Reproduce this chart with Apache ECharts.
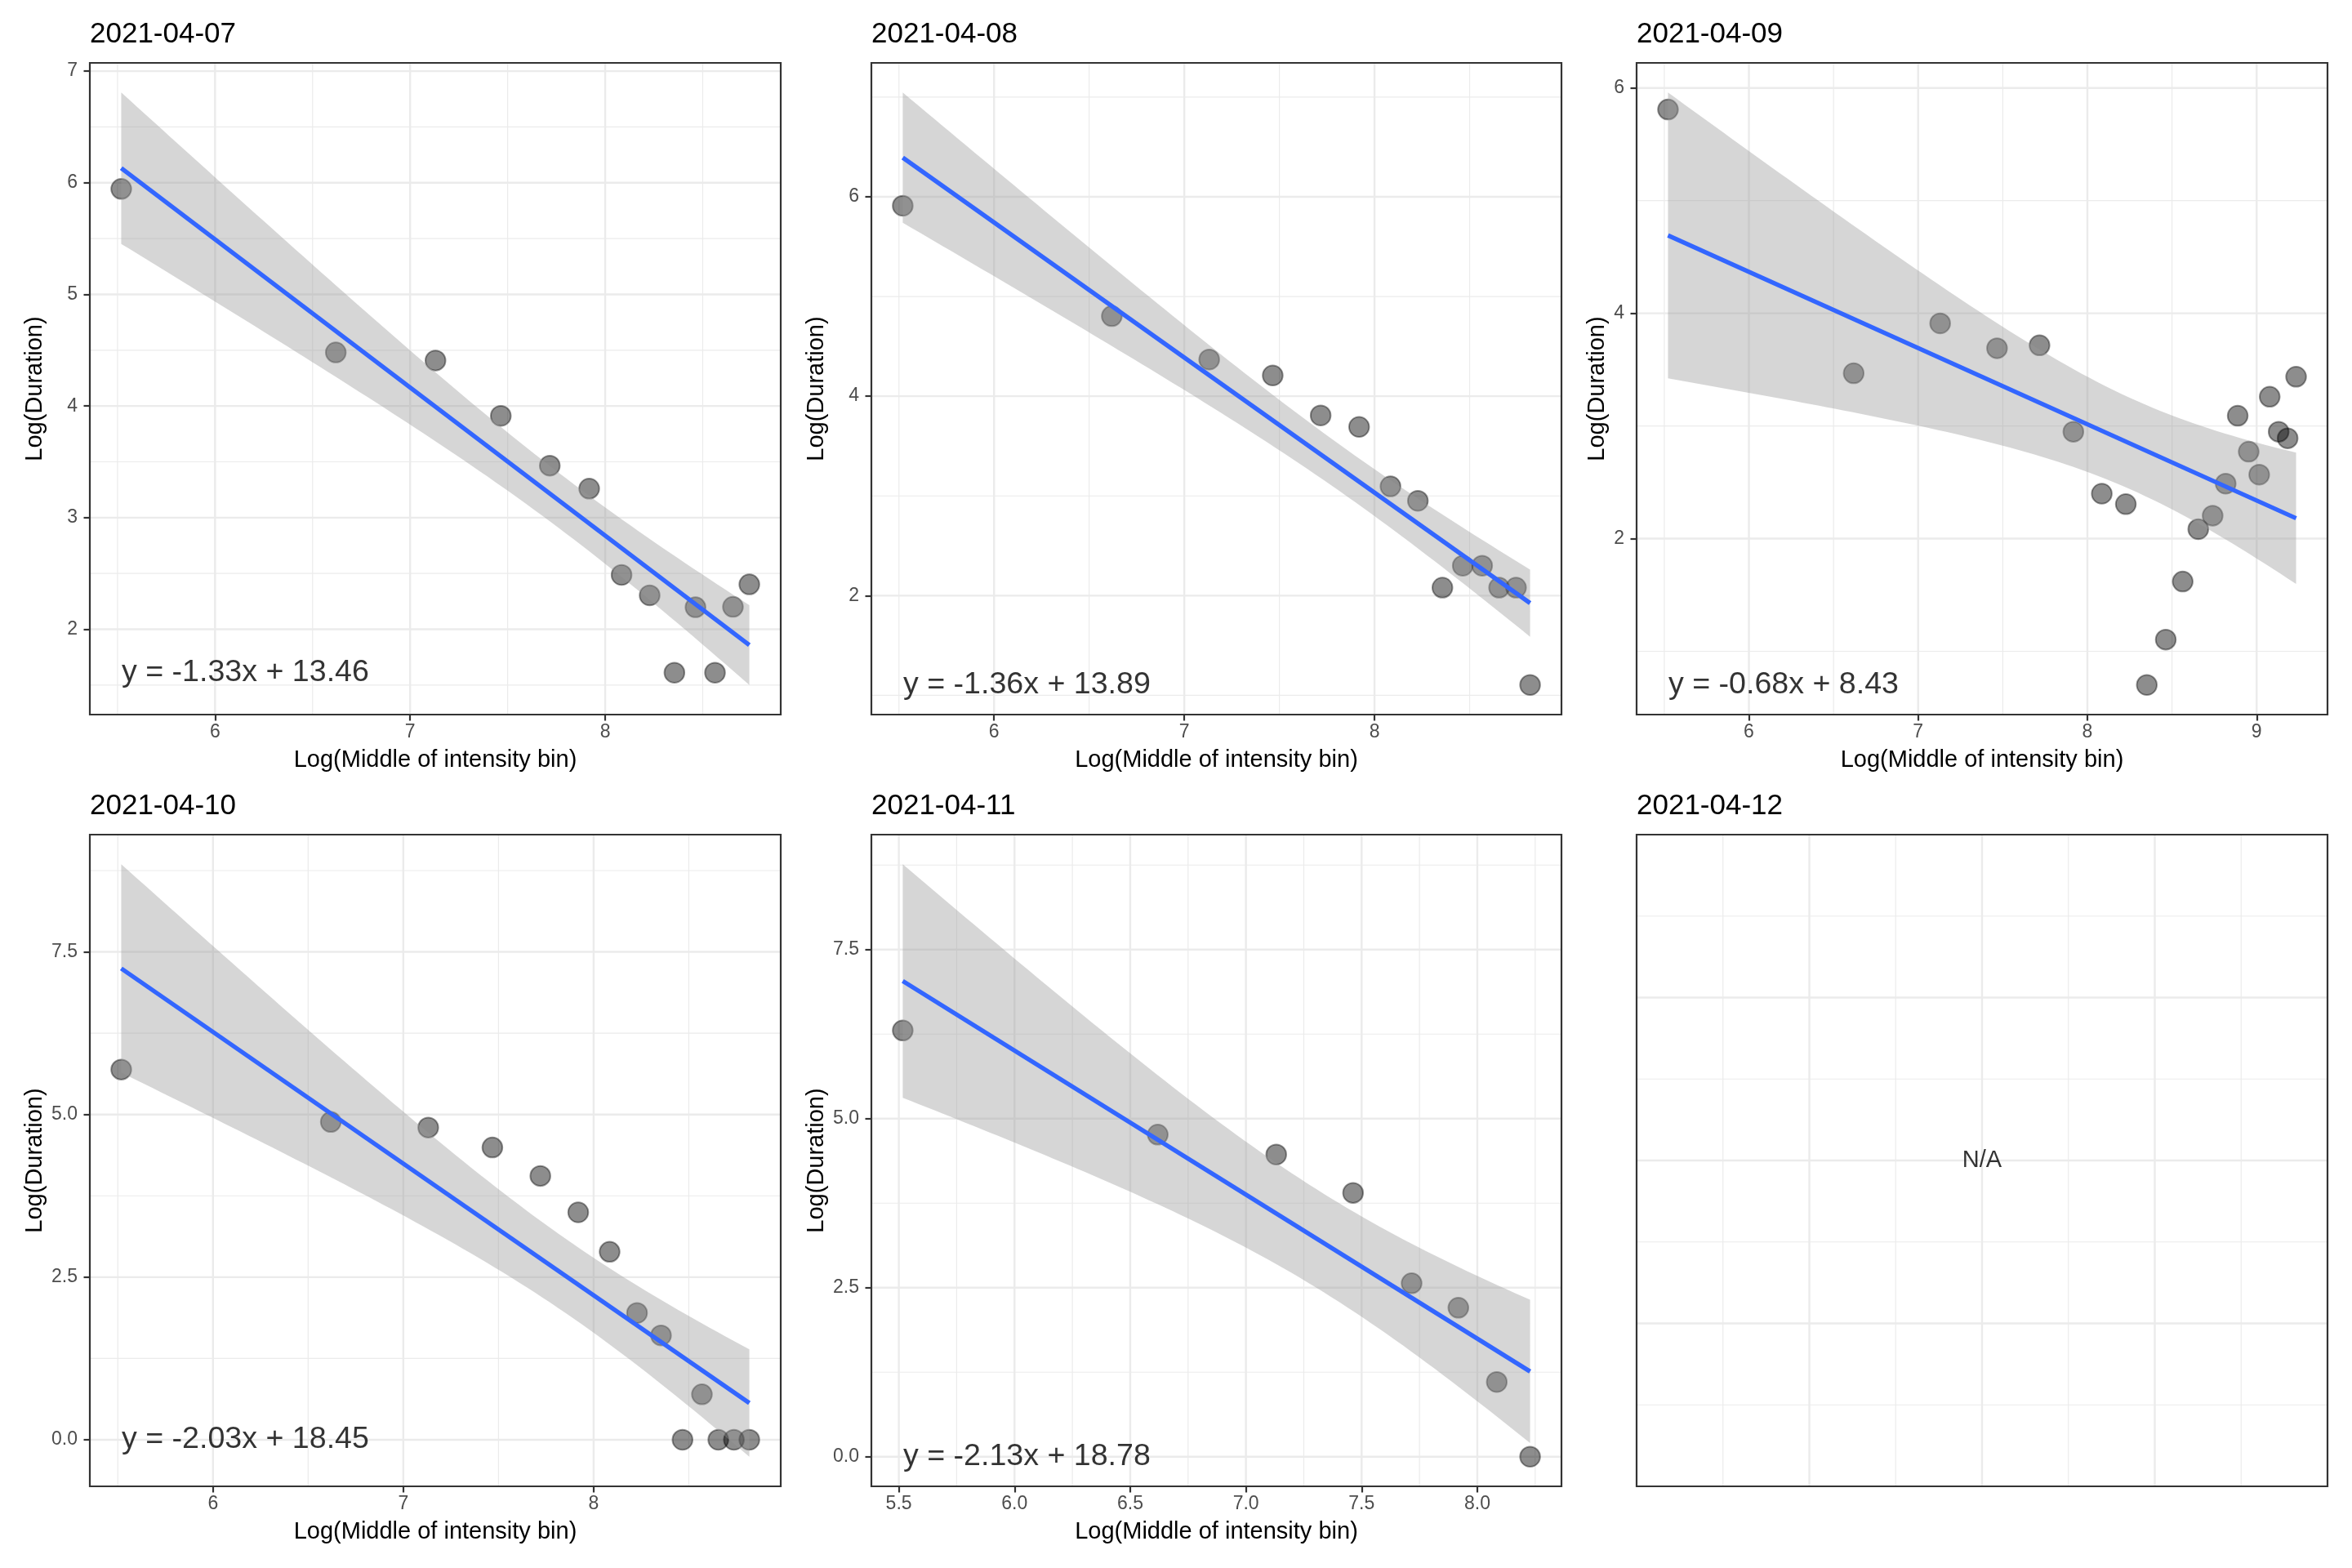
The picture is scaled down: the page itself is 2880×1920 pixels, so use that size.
<!DOCTYPE html>
<html>
<head>
<meta charset="utf-8">
<script src="https://cdn.jsdelivr.net/npm/echarts@6/dist/echarts.min.js"></script>
<style>
html,body{margin:0;padding:0;background:#fff;}
#chart{width:2880px;height:1920px;}
</style>
</head>
<body>
<div id="chart"></div>
<script>
// ---------------- data ----------------
const titles = ['2021-04-07', '2021-04-08', '2021-04-09', '2021-04-10', '2021-04-11', '2021-04-12'];

const x0407 = [5.519, 6.619, 7.130, 7.465, 7.716, 7.918, 8.084, 8.228, 8.355, 8.463, 8.563, 8.655, 8.739];
const y0407 = [5.945, 4.480, 4.408, 3.912, 3.466, 3.260, 2.487, 2.304, 1.611, 2.197, 1.611, 2.201, 2.402];

const x0408 = [5.520, 6.619, 7.131, 7.465, 7.717, 7.919, 8.084, 8.228, 8.357, 8.464, 8.566, 8.655, 8.744, 8.818];
const y0408 = [5.910, 4.803, 4.368, 4.208, 3.807, 3.692, 3.096, 2.951, 2.080, 2.300, 2.300, 2.080, 2.080, 1.104];

const x0409 = [5.522, 6.619, 7.130, 7.466, 7.717, 7.917, 8.085, 8.227, 8.351, 8.463, 8.563, 8.655, 8.740, 8.817, 8.888, 8.953, 9.015, 9.077, 9.130, 9.183, 9.233];
const y0409 = [5.809, 3.468, 3.911, 3.690, 3.716, 2.949, 2.399, 2.306, 0.701, 1.104, 1.619, 2.084, 2.204, 2.488, 3.091, 2.772, 2.568, 3.259, 2.949, 2.891, 3.437];

const x0410 = [5.518, 6.619, 7.131, 7.468, 7.720, 7.919, 8.084, 8.228, 8.354, 8.467, 8.569, 8.655, 8.737, 8.818];
const y0410 = [5.691, 4.885, 4.800, 4.493, 4.056, 3.496, 2.889, 1.949, 1.604, 0.000, 0.698, 0.000, 0.000, 0.000];

const x0411 = [5.517, 6.619, 7.131, 7.463, 7.716, 7.918, 8.084, 8.228];
const y0411 = [6.304, 4.764, 4.469, 3.902, 2.565, 2.203, 1.105, 0.000];

const equations = ['y = -1.33x + 13.46', 'y = -1.36x + 13.89', 'y = -0.68x + 8.43', 'y = -2.03x + 18.45', 'y = -2.13x + 18.78'];

// tick labels (major) and minor grid positions
const xTicks = [[6, 7, 8], [6, 7, 8], [6, 7, 8, 9], [6, 7, 8], [5.5, 6.0, 6.5, 7.0, 7.5, 8.0], [1, 2, 3]];
const xMinor = [[5.5, 6.5, 7.5, 8.5], [5.5, 6.5, 7.5, 8.5], [5.5, 6.5, 7.5, 8.5], [5.5, 6.5, 7.5, 8.5], [5.75, 6.25, 6.75, 7.25, 7.75, 8.25], [0.5, 1.5, 2.5, 3.5]];
const yTicks = [[2, 3, 4, 5, 6, 7], [2, 4, 6], [2, 4, 6], [0, 2.5, 5.0, 7.5], [0, 2.5, 5.0, 7.5], [1, 2, 3]];
const yMinor = [[1.5, 2.5, 3.5, 4.5, 5.5, 6.5], [1, 3, 5, 7], [1, 3, 5], [1.25, 3.75, 6.25, 8.75], [1.25, 3.75, 6.25, 8.75], [0.5, 1.5, 2.5, 3.5]];
const xDecimals = [0, 0, 0, 0, 1, 0];
const yDecimals = [0, 0, 0, 1, 1, 0];
const emptyRange = [0, 4];
const emptyLabel = 'N/A';
const xName = 'Log(Middle of intensity bin)';
const yName = 'Log(Duration)';

// Student t 0.975 quantiles by degrees of freedom (for the 95% band of lm smoothing)
const T975 = [NaN, 12.706, 4.303, 3.182, 2.776, 2.571, 2.447, 2.365, 2.306, 2.262, 2.228, 2.201, 2.179, 2.160, 2.145, 2.131, 2.120, 2.110, 2.101, 2.093, 2.086, 2.080, 2.074, 2.069, 2.064, 2.060];

// ---------------- layout ----------------
const LAYOUT = [
  {left: 110, top: 77, width: 846, height: 798, ytX: 43},
  {left: 1067, top: 77, width: 845, height: 798, ytX: 1000},
  {left: 2004, top: 77, width: 846, height: 798, ytX: 1956},
  {left: 110, top: 1022, width: 846, height: 798, ytX: 43},
  {left: 1067, top: 1022, width: 845, height: 798, ytX: 1000},
  {left: 2004, top: 1022, width: 846, height: 798, ytX: 1956}
];
const FONT = '"Liberation Sans", Arial, Helvetica, sans-serif';
const GRID_COLOR = '#EBEBEB';
const BORDER = '#333333';

// ---------------- lm fit + 95% confidence band (like geom_smooth(method = "lm")) ----------------
function lmFit(xs, ys) {
  const n = xs.length;
  const mx = xs.reduce((a, b) => a + b, 0) / n;
  const my = ys.reduce((a, b) => a + b, 0) / n;
  let sxx = 0, sxy = 0;
  for (let i = 0; i < n; i++) { sxx += (xs[i] - mx) ** 2; sxy += (xs[i] - mx) * (ys[i] - my); }
  const b = sxy / sxx, a = my - b * mx;
  let sse = 0;
  for (let i = 0; i < n; i++) sse += (ys[i] - (a + b * xs[i])) ** 2;
  const s = Math.sqrt(sse / (n - 2));
  const t = T975[n - 2];
  const x0 = Math.min(...xs), x1 = Math.max(...xs);
  const band = [];
  const N = 80;
  for (let k = 0; k < N; k++) {
    const x = x0 + (x1 - x0) * k / (N - 1);
    const yh = a + b * x;
    const se = s * Math.sqrt(1 / n + (x - mx) ** 2 / sxx);
    band.push([x, yh - t * se, yh + t * se]);
  }
  return {a, b, x0, x1, band};
}

const seriesX = [x0407, x0408, x0409, x0410, x0411];
const seriesY = [y0407, y0408, y0409, y0410, y0411];

const grids = [], xAxes = [], yAxes = [], series = [], graphics = [];

// gridlines drawn as one custom element per panel (major + minor, both directions)
function gridLineSeries(idx, xv, xm, yv, ym) {
  return {
    type: 'custom', xAxisIndex: idx, yAxisIndex: idx, silent: true, z: 1,
    data: [[0]],
    renderItem: function (params, api) {
      const cs = params.coordSys;
      const ax = xAxes[idx], ay = yAxes[idx];
      const children = [];
      const vline = (v, w) => {
        const px = api.coord([v, ay.min])[0];
        children.push({type: 'line', shape: {x1: px, y1: cs.y, x2: px, y2: cs.y + cs.height},
          style: {stroke: GRID_COLOR, lineWidth: w}, silent: true});
      };
      const hline = (v, w) => {
        const py = api.coord([ax.min, v])[1];
        children.push({type: 'line', shape: {x1: cs.x, y1: py, x2: cs.x + cs.width, y2: py},
          style: {stroke: GRID_COLOR, lineWidth: w}, silent: true});
      };
      xm.forEach(v => vline(v, 1.2));
      ym.forEach(v => hline(v, 1.2));
      xv.forEach(v => vline(v, 2.4));
      yv.forEach(v => hline(v, 2.4));
      return {type: 'group', children: children, silent: true};
    }
  };
}

for (let i = 0; i < 6; i++) {
  const L = LAYOUT[i];
  grids.push({left: L.left, top: L.top, width: L.width, height: L.height, show: true,
    borderColor: BORDER, borderWidth: 2.2, backgroundColor: 'rgba(0,0,0,0)', z: 10, outerBoundsMode: 'none', containLabel: false});

  let xmin, xmax, ymin, ymax;
  if (i < 5) {
    const xs = seriesX[i], ys = seriesY[i];
    const f = lmFit(xs, ys);
    const bx0 = f.x0, bx1 = f.x1;
    let lo = Math.min(...ys), hi = Math.max(...ys);
    f.band.forEach(p => { lo = Math.min(lo, p[1]); hi = Math.max(hi, p[2]); });
    const ex = (bx1 - bx0) * 0.05, ey = (hi - lo) * 0.05;
    xmin = bx0 - ex; xmax = bx1 + ex; ymin = lo - ey; ymax = hi + ey;

    // points
    series.push({
      type: 'scatter', xAxisIndex: i, yAxisIndex: i, z: 2, silent: true,
      symbolSize: 24.5,
      itemStyle: {color: 'rgba(0,0,0,0.56)', borderColor: 'rgba(0,0,0,0.5)', borderWidth: 2},
      data: xs.map((x, k) => [x, ys[k]])
    });
    // confidence ribbon
    const band = f.band;
    series.push({
      type: 'custom', xAxisIndex: i, yAxisIndex: i, z: 3, silent: true,
      data: [[band[0][0], band[0][1]]],
      renderItem: function (params, api) {
        const pts = [];
        band.forEach(p => pts.push(api.coord([p[0], p[2]])));
        for (let k = band.length - 1; k >= 0; k--) pts.push(api.coord([band[k][0], band[k][1]]));
        return {type: 'polygon', shape: {points: pts}, style: {fill: 'rgba(153,153,153,0.4)', stroke: null}, silent: true};
      }
    });
    // fitted line
    series.push({
      type: 'line', xAxisIndex: i, yAxisIndex: i, z: 4, silent: true, showSymbol: false, symbol: 'none',
      lineStyle: {color: '#3366FF', width: 5.4},
      data: [[bx0, f.a + f.b * bx0], [bx1, f.a + f.b * bx1]]
    });
    // equation label anchored at (min x, min y)
    series.push({
      type: 'scatter', xAxisIndex: i, yAxisIndex: i, z: 6, silent: true,
      symbolSize: 1, itemStyle: {color: 'rgba(0,0,0,0)'},
      label: {show: true, position: 'right', distance: 0, formatter: equations[i],
        fontSize: 37.6, color: '#000000', fontFamily: FONT},
      data: [[Math.min(...xs), Math.min(...ys)]]
    });
  } else {
    xmin = emptyRange[0]; xmax = emptyRange[1]; ymin = emptyRange[0]; ymax = emptyRange[1];
    series.push({
      type: 'scatter', xAxisIndex: i, yAxisIndex: i, z: 6, silent: true,
      symbolSize: 1, itemStyle: {color: 'rgba(0,0,0,0)'},
      label: {show: true, position: 'inside', formatter: emptyLabel, fontSize: 29, color: '#000000', fontFamily: FONT},
      data: [[(emptyRange[0] + emptyRange[1]) / 2, (emptyRange[0] + emptyRange[1]) / 2]]
    });
  }

  const showAx = i < 5;
  const xd = xDecimals[i], yd = yDecimals[i];
  xAxes.push({
    type: 'value', gridIndex: i, min: xmin, max: xmax, scale: true, position: 'bottom',
    axisLine: {show: false, onZero: false}, splitLine: {show: false}, minorSplitLine: {show: false},
    axisTick: {show: showAx, customValues: xTicks[i], length: 7.5, lineStyle: {color: BORDER, width: 2.2}},
    axisLabel: {show: showAx, customValues: xTicks[i], formatter: v => Number(v).toFixed(xd),
      color: '#4D4D4D', fontSize: 23, margin: 10, fontFamily: FONT}
  });
  yAxes.push({
    type: 'value', gridIndex: i, min: ymin, max: ymax, scale: true, position: 'left',
    axisLine: {show: false, onZero: false}, splitLine: {show: false}, minorSplitLine: {show: false},
    axisTick: {show: showAx, customValues: yTicks[i], length: 7.5, lineStyle: {color: BORDER, width: 2.2}},
    axisLabel: {show: showAx, customValues: yTicks[i], formatter: v => Number(v).toFixed(yd),
      color: '#4D4D4D', fontSize: 23, margin: 15, fontFamily: FONT}
  });

  series.push(gridLineSeries(i, xTicks[i], xMinor[i], yTicks[i], yMinor[i]));

  // panel title
  graphics.push({type: 'text', x: L.left, y: L.top - 34.6, silent: true,
    style: {text: titles[i], font: '35px ' + FONT, fill: '#000000', textAlign: 'left', textVerticalAlign: 'middle', align: 'left', verticalAlign: 'middle'}});
  if (showAx) {
    graphics.push({type: 'text', x: L.left + L.width / 2, y: L.top + L.height + 56, silent: true,
      style: {text: xName, font: '29px ' + FONT, fill: '#000000', textAlign: 'center', textVerticalAlign: 'middle', align: 'center', verticalAlign: 'middle'}});
    graphics.push({type: 'text', x: L.ytX, y: L.top + L.height / 2, rotation: Math.PI / 2, silent: true,
      style: {text: yName, font: '29px ' + FONT, fill: '#000000', textAlign: 'center', textVerticalAlign: 'middle', align: 'center', verticalAlign: 'middle'}});
  }
}

const chart = echarts.init(document.getElementById('chart'), null, {renderer: 'canvas', width: 2880, height: 1920});
chart.setOption({
  backgroundColor: '#ffffff',
  animation: false,
  textStyle: {fontFamily: FONT},
  grid: grids,
  xAxis: xAxes,
  yAxis: yAxes,
  series: series,
  graphic: {elements: graphics}
});
</script>
</body>
</html>
